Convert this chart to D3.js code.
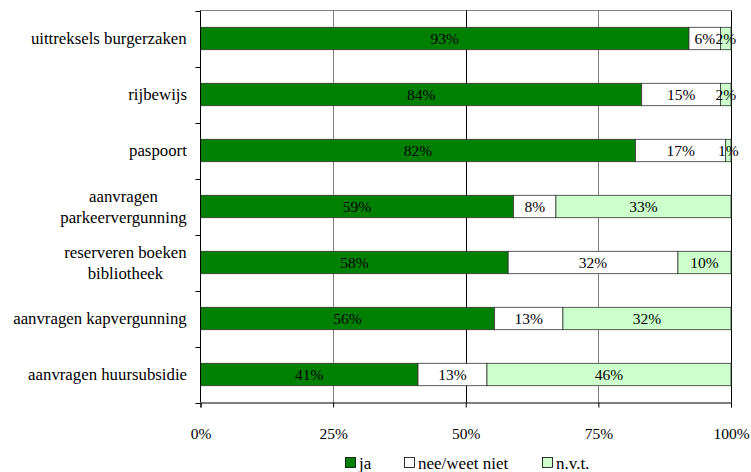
<!DOCTYPE html>
<html><head><meta charset="utf-8">
<script src="https://cdn.jsdelivr.net/npm/d3@7"></script>
<style>body{margin:0;background:#fff;}</style>
</head><body>
<svg id="c" width="751" height="472"></svg>
<script>
const categories = [
  ["uittreksels burgerzaken"],
  ["rijbewijs"],
  ["paspoort"],
  ["aanvragen", "parkeervergunning"],
  ["reserveren boeken", "bibliotheek"],
  ["aanvragen kapvergunning"],
  ["aanvragen huursubsidie"]
];
const seriesNames = ["ja", "nee/weet niet", "n.v.t."];
const ja   = [93, 84, 82, 59, 58, 56, 41];
const nee  = [6, 15, 17, 8, 32, 13, 13];
const nvt  = [2, 2, 1, 33, 10, 32, 46];
const tickValues = [0, 0.25, 0.5, 0.75, 1];
const tickLabels = ["0%", "25%", "50%", "75%", "100%"];
const colors = ["#008000", "#ffffff", "#ccffcc"];

const FONT = "Liberation Serif";
const FS_CAT = 16.8, FS_NUM = 15.5, FS_LEG = 17;
const svg = d3.select("#c");
const m = {left: 200.5, right: 731, top: 10.5, bottom: 402.5};
const x = d3.scaleLinear().domain([0, 1]).range([m.left, m.right]);
const y = d3.scaleBand().domain(d3.range(categories.length)).range([m.top, m.bottom]).paddingInner(0.6).paddingOuter(0.3);
const yb = d3.scaleLinear().domain([0, categories.length]).range([m.top, m.bottom]);

svg.append("line").attr("x1", m.left).attr("x2", m.right).attr("y1", m.top).attr("y2", m.top).attr("stroke", "#808080");
tickValues.slice(1).forEach((t) => {
  const xx = Math.round(x(t)) + 0.5;
  svg.append("line").attr("x1", xx).attr("x2", xx).attr("y1", m.top).attr("y2", m.bottom)
    .attr("stroke", (t === 0.5 || t === 1) ? "#000" : "#808080").attr("stroke-width", 1);
});

const data = categories.map((c, i) => {
  const vals = [ja[i], nee[i], nvt[i]];
  const tot = d3.sum(vals);
  let acc = 0;
  return vals.map((v, k) => { const s = acc / tot; acc += v; return {i, k, v, x0: s, x1: acc / tot}; });
});

const g = svg.append("g");
data.forEach(row => {
  row.forEach(d => {
    g.append("rect").attr("x", x(d.x0)).attr("width", x(d.x1) - x(d.x0))
      .attr("y", y(d.i)).attr("height", y.bandwidth())
      .attr("fill", colors[d.k]).attr("stroke", "#333").attr("stroke-width", 0.8);
  });
  row.forEach(d => {
    g.append("text").attr("x", (x(d.x0) + x(d.x1)) / 2).attr("y", y(d.i) + y.bandwidth() / 2)
      .attr("dy", "0.35em").attr("text-anchor", "middle").attr("font-family", FONT).attr("font-size", FS_NUM).attr("fill", "#000")
      .text(d.v + "%");
  });
});

svg.append("line").attr("x1", m.left).attr("x2", m.left).attr("y1", m.top).attr("y2", m.bottom).attr("stroke", "#000");
d3.range(categories.length + 1).forEach(k => {
  const yy = Math.round(yb(k)) + 0.5;
  svg.append("line").attr("x1", m.left - 5).attr("x2", m.left).attr("y1", yy).attr("y2", yy).attr("stroke", "#000");
});
categories.forEach((lines, i) => {
  const cy = y(i) + y.bandwidth() / 2;
  const t = svg.append("text").attr("x", 187).attr("y", cy).attr("text-anchor", "middle")
    .attr("font-family", FONT).attr("font-size", FS_CAT).attr("fill", "#000");
  const lh = 21;
  lines.forEach((l, j) => {
    t.append("tspan").attr("x", 0).attr("y", cy + (j - (lines.length - 1) / 2) * lh).attr("dy", "0.35em").text(l);
  });
  const w = t.node().getBBox().width;
  t.selectAll("tspan").attr("x", 187 - w / 2);
});

const xa = svg.append("g").attr("transform", `translate(0,${m.bottom})`)
  .call(d3.axisBottom(x).tickValues(tickValues).tickFormat((d, i) => tickLabels[i]).tickSize(5).tickPadding(20));
xa.attr("font-family", FONT);
xa.select(".domain").attr("stroke", "#000");
xa.selectAll("text").attr("font-family", FONT).attr("font-size", FS_NUM).attr("fill", "#000");

const legX = [345, 404, 542];
seriesNames.forEach((n, k) => {
  svg.append("rect").attr("x", legX[k] + 0.5).attr("y", 457.5).attr("width", 10).attr("height", 10)
    .attr("fill", colors[k]).attr("stroke", "#000").attr("stroke-width", 0.8);
  svg.append("text").attr("x", legX[k] + 14).attr("y", 463).attr("dy", "0.35em")
    .attr("font-family", FONT).attr("font-size", FS_LEG).attr("fill", "#000").text(n);
});
</script>
</body></html>
